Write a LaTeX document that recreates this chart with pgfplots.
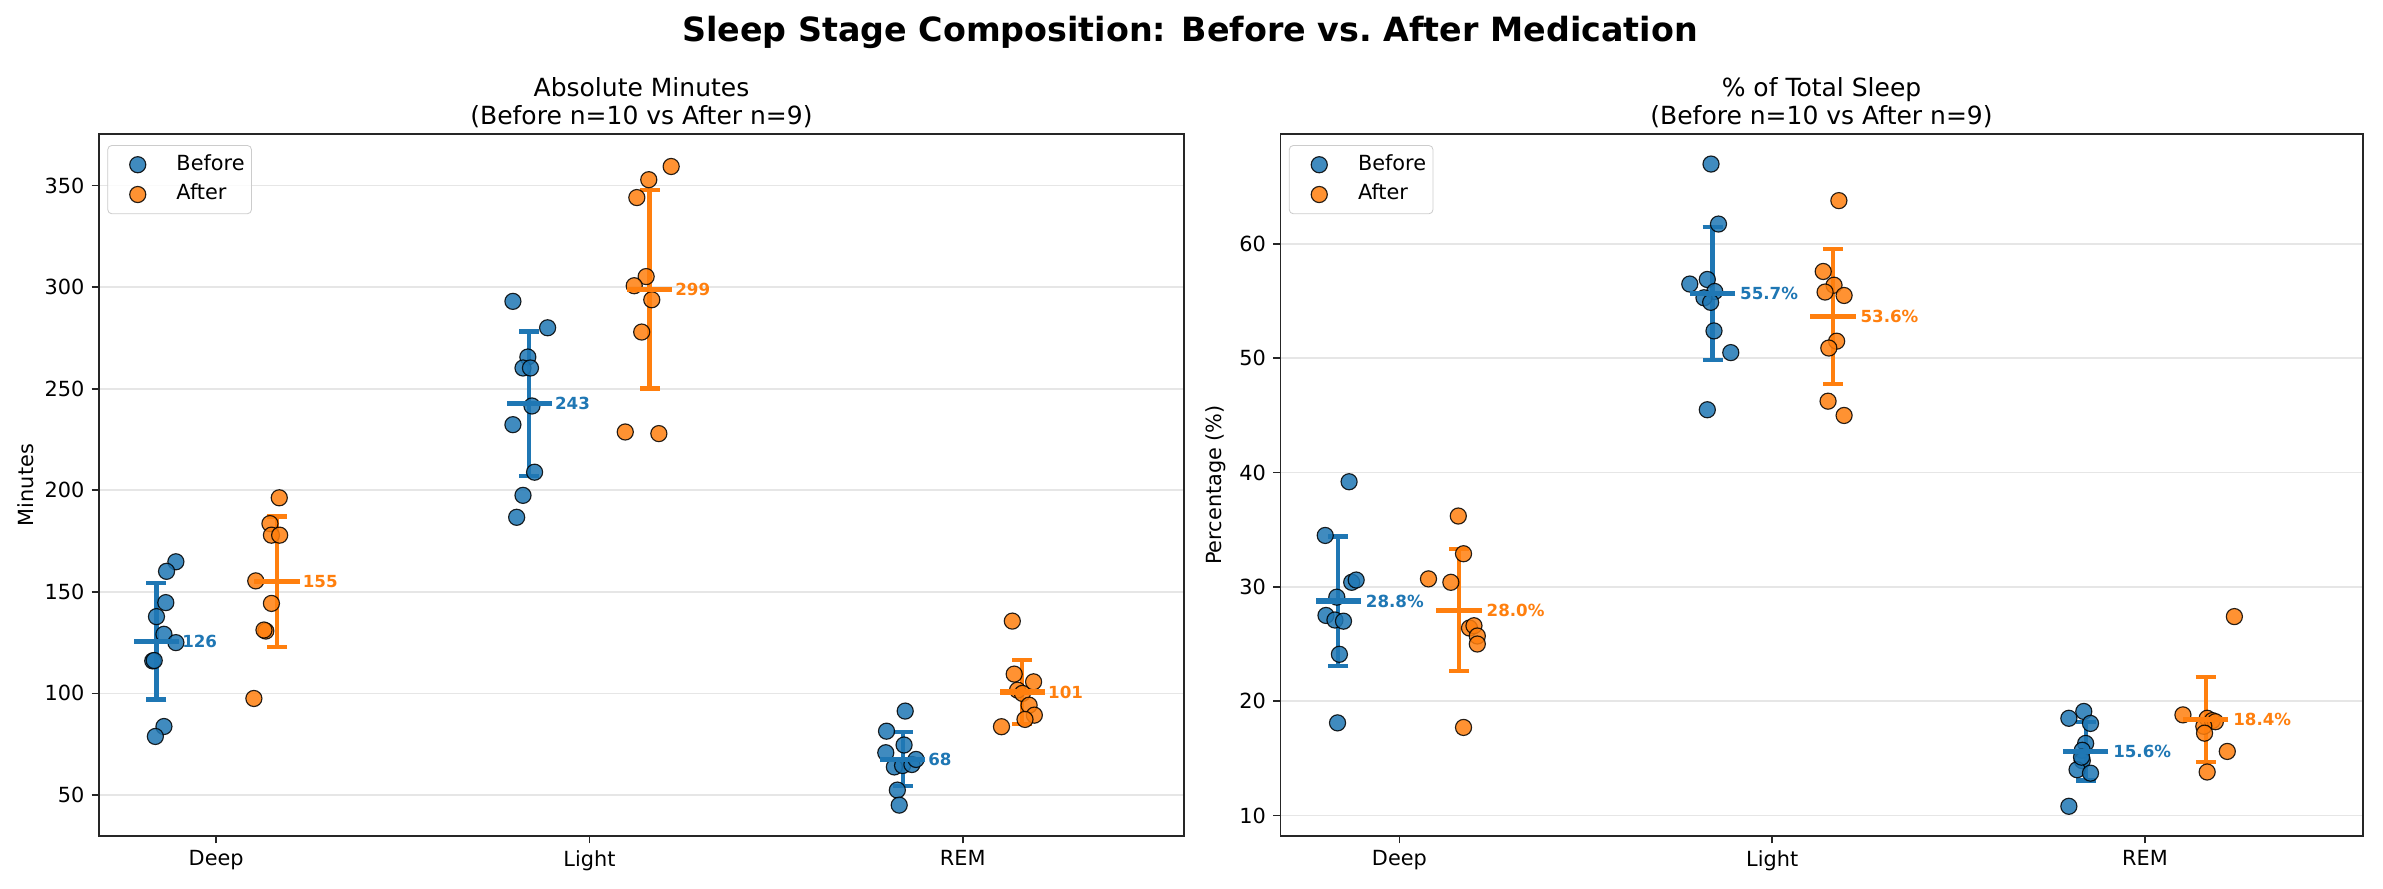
\documentclass[border=0pt]{standalone}
\usepackage{fontspec}
\setmainfont{DejaVu Sans}
\usepackage{pgfplots}
\pgfplotsset{compat=1.18}
\usepackage{pgfplotstable}
\definecolor{tabblue}{HTML}{1F77B4}
\definecolor{taborange}{HTML}{FF7F0E}
\definecolor{gridgray}{HTML}{E6E6E6}
\definecolor{legframe}{HTML}{CCCCCC}
\definecolor{axisdark}{HTML}{262626}

% ---------- Absolute minutes ----------
\pgfplotstableread{
x y
-0.108 164.8
-0.133 160.1
-0.135 144.7
-0.160 137.8
-0.140 129.1
-0.108 125.0
-0.170 116.0
-0.166 116.2
-0.140 83.7
-0.163 78.8
0.795 293.0
0.888 280.0
0.835 265.6
0.822 260.2
0.842 260.2
0.846 241.5
0.795 232.3
0.853 208.9
0.822 197.5
0.805 186.7
1.846 91.3
1.796 81.4
1.843 74.6
1.794 70.8
1.817 63.8
1.839 64.5
1.864 65.0
1.875 67.5
1.825 52.4
1.830 45.0
}\minbefore
\pgfplotstableread{
x y
0.169 196.3
0.144 183.6
0.148 177.9
0.170 177.9
0.106 155.4
0.148 144.3
0.133 130.7
0.128 131.2
0.101 97.5
1.219 359.4
1.159 352.9
1.127 344.1
1.152 305.2
1.120 300.7
1.167 293.8
1.140 277.9
1.096 228.7
1.186 227.9
2.133 135.6
2.138 109.5
2.190 105.7
2.147 101.6
2.160 100.0
2.178 94.2
2.192 89.3
2.167 87.2
2.104 83.6
}\minafter
\pgfplotstableread{
x mean sd
-0.160 125.6 28.6
0.839 242.6 35.6
1.839 67.6 13.3
}\minbeforestats
\pgfplotstableread{
x mean sd
0.163 154.9 32.2
1.161 299.0 48.9
2.160 100.7 15.7
}\minafterstats

% ---------- Percentage ----------
\pgfplotstableread{
x y
-0.135 39.2
-0.199 34.5
-0.128 30.4
-0.116 30.6
-0.168 29.1
-0.197 27.5
-0.173 27.1
-0.150 27.0
-0.161 24.1
-0.166 18.1
0.836 67.0
0.856 61.75
0.779 56.5
0.826 56.9
0.846 55.85
0.817 55.3
0.835 54.9
0.844 52.4
0.889 50.5
0.826 45.5
1.836 19.1
1.796 18.5
1.854 18.05
1.841 16.3
1.832 15.7
1.832 14.8
1.818 14.0
1.854 13.7
1.796 10.8
1.830 15.1
}\pctbefore
\pgfplotstableread{
x y
0.158 36.2
0.172 32.9
0.078 30.7
0.138 30.4
0.188 26.4
0.200 26.6
0.209 25.7
0.209 25.0
0.172 17.7
1.179 63.8
1.137 57.6
1.166 56.4
1.142 55.8
1.193 55.5
1.173 51.5
1.152 50.9
1.150 46.25
1.193 45.0
2.240 27.4
2.102 18.8
2.167 18.5
2.181 18.3
2.189 18.2
2.158 17.8
2.160 17.2
2.221 15.6
2.167 13.8
}\pctafter
\pgfplotstableread{
x mean sd
-0.164 28.76 5.65
0.840 55.66 5.80
1.841 15.60 2.55
}\pctbeforestats
\pgfplotstableread{
x mean sd
0.160 27.96 5.35
1.163 53.64 5.90
2.163 18.40 3.70
}\pctafterstats

\pgfplotsset{
  panel/.style={
    scale only axis,
    height=336.96pt,
    axis line style={line width=0.9pt, axisdark},
    tick align=outside, xtick pos=bottom, ytick pos=left,
    major tick length=3.5pt,
    every tick/.style={axisdark, line width=0.8pt},
    xtick={0,1,2}, xticklabels={Deep,Light,REM},
    ymajorgrids, grid style={gridgray, line width=0.8pt},
    tick label style={font=\fontsize{10}{12}\selectfont, text=black},
    /pgf/number format/assume math mode=true,
    label style={font=\fontsize{10}{12}\selectfont},
    title style={font=\fontsize{12}{13.8}\selectfont, align=center,
      at={(0.5,1)}, anchor=south, inner sep=0pt, yshift=-3.4pt},
    legend style={at={(0,1)}, anchor=north west, xshift=4pt, yshift=-5.3pt,
      draw=legframe, rounded corners=2pt, fill=white, fill opacity=0.8, text opacity=1,
      font=\fontsize{10}{12}\selectfont, inner xsep=0pt, inner ysep=2.1pt,
      row sep=0pt,
      nodes={inner xsep=3.3pt, inner ysep=2.3pt, text height=7.4pt, text depth=2.3pt}},
    legend cell align=left,
  },
  scatlegend/.style={legend image code/.code={%
    \path[draw=none] (0pt,0pt) -- (29.7pt,0pt);
    \path[##1, draw=none] plot coordinates {(14.4pt,0pt)};}},
  befpts/.style={only marks, mark=*, mark size=3.87pt, scatlegend,
    mark options={fill=tabblue, draw=black, line width=0.55pt, opacity=0.85}},
  aftpts/.style={only marks, mark=*, mark size=3.87pt, scatlegend,
    mark options={fill=taborange, draw=black, line width=0.55pt, opacity=0.85}},
  stat/.style={only marks, mark=-, mark size=10.9pt, forget plot,
    mark options={#1, line width=2.5pt, opacity=1},
    error bars/.cd, y dir=both, y explicit,
    error bar style={#1, line width=2pt},
    error mark options={#1, rotate=90, mark size=4.8pt, line width=2pt}},
}
\tikzset{
  vlab/.style={anchor=west, inner sep=0pt, text=#1,
    font=\bfseries\fontsize{8}{9.6}\selectfont},
}

\begin{document}
\begin{tikzpicture}
\useasboundingbox (0,0) rectangle (1143.84pt,426.24pt);

\node[font=\bfseries\fontsize{16}{19}\selectfont] at (571.2pt,410.8pt)
  {Sleep Stage Composition: Before vs.\ After Medication};

\begin{axis}[panel, at={(47.52pt,24.96pt)}, anchor=south west, width=520.8pt,
  xmin=-0.314, xmax=2.593, ymin=29.8, ymax=375.4,
  ytick={50,100,150,200,250,300,350},
  ylabel={Minutes},
  ylabel style={at={(axis description cs:-0.0672,0.5)}, anchor=center},
  title={Absolute Minutes\\(Before n=10 vs After n=9)}]
\addplot[befpts] table[x=x,y=y] {\minbefore};
\addlegendentry{Before}
\addplot[aftpts] table[x=x,y=y] {\minafter};
\addlegendentry{After}
\addplot[stat=tabblue] table[x=x, y=mean, y error=sd] {\minbeforestats};
\addplot[stat=taborange] table[x=x, y=mean, y error=sd] {\minafterstats};
\node[vlab=tabblue] at (axis cs:-0.092,125.6) {126};
\node[vlab=tabblue] at (axis cs:0.907,242.6) {243};
\node[vlab=tabblue] at (axis cs:1.907,67.6) {68};
\node[vlab=taborange] at (axis cs:0.231,154.9) {155};
\node[vlab=taborange] at (axis cs:1.229,299.0) {299};
\node[vlab=taborange] at (axis cs:2.228,100.7) {101};
\end{axis}

\begin{axis}[panel, at={(614.64pt,24.96pt)}, anchor=south west, width=519.4pt,
  xmin=-0.319, xmax=2.584, ymin=8.2, ymax=69.63,
  ytick={10,20,30,40,50,60},
  ylabel={Percentage (\%)},
  ylabel style={at={(axis description cs:-0.0596,0.5)}, anchor=center},
  title={\% of Total Sleep\\(Before n=10 vs After n=9)}]
\addplot[befpts] table[x=x,y=y] {\pctbefore};
\addlegendentry{Before}
\addplot[aftpts] table[x=x,y=y] {\pctafter};
\addlegendentry{After}
\addplot[stat=tabblue] table[x=x, y=mean, y error=sd] {\pctbeforestats};
\addplot[stat=taborange] table[x=x, y=mean, y error=sd] {\pctafterstats};
\node[vlab=tabblue] at (axis cs:-0.091,28.76) {28.8\%};
\node[vlab=tabblue] at (axis cs:0.913,55.66) {55.7\%};
\node[vlab=tabblue] at (axis cs:1.914,15.60) {15.6\%};
\node[vlab=taborange] at (axis cs:0.233,27.96) {28.0\%};
\node[vlab=taborange] at (axis cs:1.236,53.64) {53.6\%};
\node[vlab=taborange] at (axis cs:2.236,18.40) {18.4\%};
\end{axis}
\end{tikzpicture}
\end{document}
